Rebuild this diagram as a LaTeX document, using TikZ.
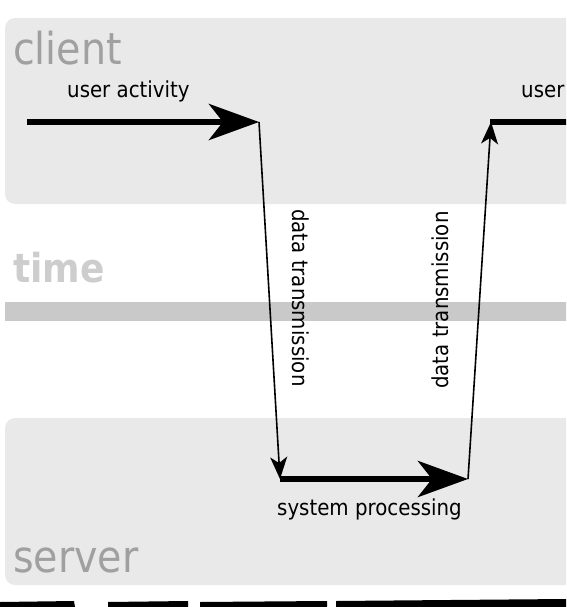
\documentclass[tikz,border=0pt]{standalone}
\usepackage{fontspec}
\setmainfont{DejaVu Sans}[FakeStretch=0.9]
\usetikzlibrary{arrows.meta}
\definecolor{panelgray}{HTML}{E9E9E9}
\definecolor{titlegray}{HTML}{A0A0A0}
\definecolor{timegray}{HTML}{CDCDCD}
\definecolor{bargray}{HTML}{C9C9C9}
\tikzset{
  panel/.style={fill=panelgray, draw=none, rounded corners=10pt},
  bigtitle/.style={text=titlegray, font=\fontsize{44}{44}\selectfont, inner sep=0pt, anchor=base west},
  timetitle/.style={text=timegray, font=\fontsize{40}{40}\selectfont\bfseries, inner sep=0pt, anchor=base west},
  label/.style={text=black, font=\fontsize{22}{22}\selectfont, inner sep=0pt},
  heavy/.style={line width=6.5pt, line cap=butt},
  heavyarrow/.style={heavy, -{Stealth[length=50pt,width=36pt,inset=14pt]}},
  thinarrow/.style={line width=1.6pt, -{Stealth[length=22pt,width=17pt,inset=6pt]}},
}
\begin{document}
\begin{tikzpicture}[x=1pt,y=-1pt]
\useasboundingbox (0,0) rectangle (566,607);
\clip (0,0) rectangle (566,607);
% panels
\path[panel] (5,18) rectangle (590,204);
\path[panel] (5,418) rectangle (590,585);
% time bar
\fill[bargray] (5,302) rectangle (590,321);
% titles
\node[bigtitle] (client) at (13,65) {client};
\node[timetitle] (time) at (13,282) {time};
\node[bigtitle] (server) at (13,572) {server};
% points
\coordinate (p1) at (27,122);
\coordinate (p2) at (259,122);
\coordinate (p3) at (280,479);
\coordinate (p4) at (468,479);
\coordinate (p5) at (491,122);
\coordinate (p6) at (570,122);
% thin transmission arrows
\draw[thinarrow] (p2) -- (p3);
\draw[thinarrow] (p4) -- (p5);
% labels
\node[label, anchor=base west] (ua) at (67,98) {user activity};
\node[label, anchor=base west] (ua2) at (521,98) {user};
\node[label, anchor=base west] (sp) at (277,515) {system processing};
\node[label, rotate=-90, anchor=west] (dt1) at (301,209) {data transmission};
\node[label, rotate=90, anchor=west] (dt2) at (440,389) {data transmission};
% heavy arrows
\draw[heavyarrow] (p1) -- (p2);
\draw[heavyarrow] (p3) -- (p4);
\draw[heavy] ([xshift=-1pt]p5) -- (p6);
% torn black bottom edge
\fill[black] (0,602) -- (74,601) -- (75,607) -- (0,607) -- cycle;
\fill[black] (108,602) -- (188,601) -- (188,607) -- (108,607) -- cycle;
\fill[black] (200,602) -- (327,601) -- (327,607) -- (200,607) -- cycle;
\fill[black] (336,601) -- (450,600) -- (566,599) -- (566,607) -- (336,607) -- cycle;
\end{tikzpicture}
\end{document}
